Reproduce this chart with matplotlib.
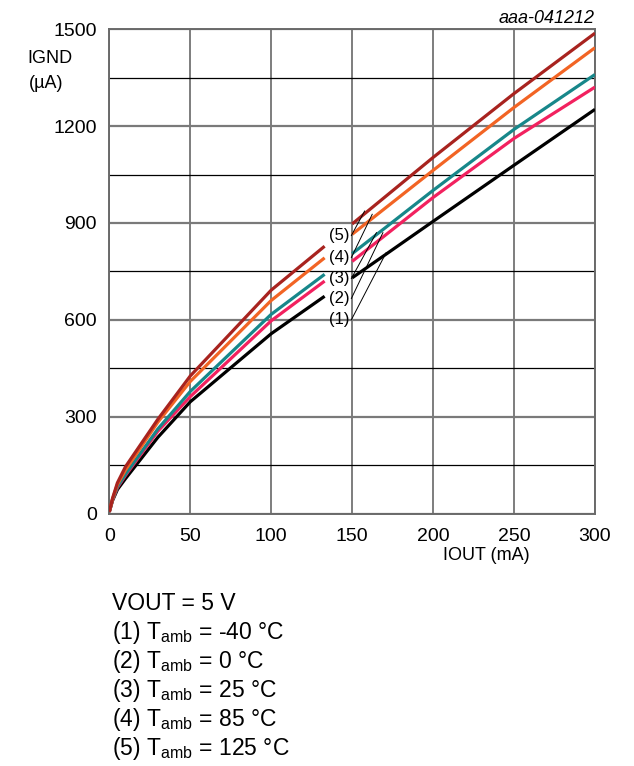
import matplotlib
matplotlib.use("Agg")
import matplotlib.pyplot as plt
import numpy as np

plt.rcParams['font.family'] = ['Liberation Sans', 'DejaVu Sans']
plt.rcParams['mathtext.fontset'] = 'custom'
plt.rcParams['mathtext.rm'] = 'Liberation Sans'
plt.rcParams['mathtext.it'] = 'Liberation Sans:italic'

# ---- data ----
iout = [0, 2, 5, 10, 30, 50, 100, 133, 150, 200, 250, 300]   # mA
ignd_m40 = [5, 40, 74, 108, 236, 346, 557, 673, 730, 905, 1079, 1252]
ignd_0 = [5, 42, 80, 118, 255, 362, 597, 720, 781, 979, 1162, 1321]
ignd_25 = [5, 43, 83, 122, 262, 378, 617, 741, 805, 1001, 1190, 1360]
ignd_85 = [5, 45, 90, 135, 283, 409, 660, 792, 865, 1063, 1258, 1443]
ignd_125 = [5, 47, 95, 145, 292, 426, 692, 828, 897, 1103, 1301, 1488]
series = [ignd_m40, ignd_0, ignd_25, ignd_85, ignd_125]
colors = ['#000000', '#F2215F', '#17878A', '#F26424', '#A8231F']
curve_labels = ['(1)', '(2)', '(3)', '(4)', '(5)']
label_y = [600, 666, 728, 793, 861]
leader_end = [(171, 808), (169, 870), (165, 870), (162.4, 927), (157.7, 937)]
gap_lo, gap_hi = 133, 150

xticks = [0, 50, 100, 150, 200, 250, 300]
yticks = [0, 300, 600, 900, 1200, 1500]
yminor = [150, 450, 750, 1050, 1350]

legend_lines = ["VOUT = 5 V",
                r"(1) T$_{\mathrm{amb}}$ = -40 °C",
                r"(2) T$_{\mathrm{amb}}$ = 0 °C",
                r"(3) T$_{\mathrm{amb}}$ = 25 °C",
                r"(4) T$_{\mathrm{amb}}$ = 85 °C",
                r"(5) T$_{\mathrm{amb}}$ = 125 °C"]

W, H = 634, 766
fig = plt.figure(figsize=(W / 100, H / 100), dpi=100)
ax = fig.add_axes([109.3 / W, 1 - 513.5 / H, (595 - 109.3) / W, (513.5 - 29.3) / H])

x = np.array(iout)
for ys, c in zip(series, colors):
    y = np.array(ys)
    left = x <= gap_lo
    right = x >= gap_hi
    ax.plot(x[left], y[left], color=c, lw=2.3, solid_capstyle='butt', zorder=3)
    ax.plot(x[right], y[right], color=c, lw=2.3, solid_capstyle='butt', zorder=3)

ax.set_xlim(0, 300)
ax.set_ylim(0, 1500)
ax.set_xticks(xticks)
ax.set_yticks(yticks)
ax.set_yticks(yminor, minor=True)
ax.tick_params(which='both', length=0)
ax.tick_params(axis='y', pad=9, labelsize=14)
ax.tick_params(axis='x', pad=10.5, labelsize=14)
ax.grid(which='major', axis='x', color='#5a5a5a', lw=1.1)
ax.grid(which='major', axis='y', color='#7a7a7a', lw=1.6)
ax.grid(which='minor', axis='y', color='#000000', lw=0.9)
ax.set_axisbelow(True)
for s in ax.spines.values():
    s.set_color('#6a6a6a')
    s.set_linewidth(1.4)

for lab, ly, (ex, ey) in zip(curve_labels, label_y, leader_end):
    ax.text(148.5, ly, lab, ha='right', va='center', fontsize=12, zorder=5)
    ax.plot([149.5, ex], [ly, ey], color='black', lw=0.7, zorder=4)

fig.text(27 / W, 1 - 58.5 / H, "IGND", ha='left', va='center', fontsize=13)
fig.text(29 / W, 1 - 83 / H, "(µA)", ha='left', va='center', fontsize=13)
fig.text(486 / W, 1 - 555 / H, "IOUT (mA)", ha='center', va='center', fontsize=13)
fig.text(595 / W, 1 - 22.7 / H, "aaa-041212", ha='right', va='baseline',
         fontsize=13, style='italic')

for i, t in enumerate(legend_lines):
    fig.text(112 / W, 1 - (610 + 29 * i) / H, t, ha='left', va='baseline', fontsize=16.5)

fig.savefig("out.png", dpi=100)
